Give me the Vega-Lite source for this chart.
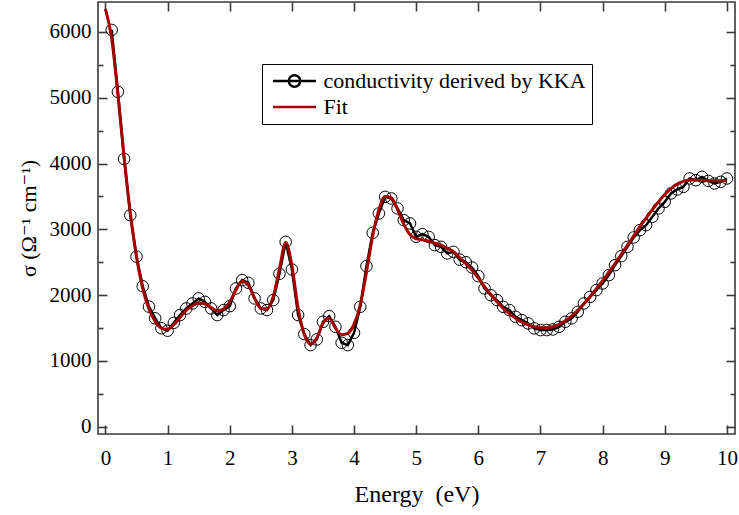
{
  "$schema": "https://vega.github.io/schema/vega-lite/v6.json",
  "width": 637,
  "height": 432,
  "autosize": {"type": "none"},
  "padding": {"left": 98, "top": 2, "right": 4, "bottom": 81},
  "background": "white",
  "config": {
    "view": {"stroke": "#3a3a3a", "strokeWidth": 1.6},
    "axis": {
      "grid": false,
      "domain": false,
      "tickColor": "#3a3a3a",
      "tickWidth": 1.6,
      "labelFont": "'Liberation Serif', 'DejaVu Serif', serif",
      "labelFontSize": 21,
      "labelColor": "black",
      "labelOverlap": false,
      "labelFlush": false,
      "titleFont": "'Liberation Serif', 'DejaVu Serif', serif",
      "titleColor": "black",
      "titleFontWeight": "normal"
    }
  },
  "datasets": {
    "kka": [
      {"energy": 0.1, "sigma": 6030, "series": "conductivity derived by KKA"},
      {"energy": 0.2, "sigma": 5090, "series": "conductivity derived by KKA"},
      {"energy": 0.3, "sigma": 4070, "series": "conductivity derived by KKA"},
      {"energy": 0.4, "sigma": 3215, "series": "conductivity derived by KKA"},
      {"energy": 0.5, "sigma": 2585, "series": "conductivity derived by KKA"},
      {"energy": 0.6, "sigma": 2135, "series": "conductivity derived by KKA"},
      {"energy": 0.7, "sigma": 1825, "series": "conductivity derived by KKA"},
      {"energy": 0.8, "sigma": 1648, "series": "conductivity derived by KKA"},
      {"energy": 0.9, "sigma": 1497, "series": "conductivity derived by KKA"},
      {"energy": 1.0, "sigma": 1460, "series": "conductivity derived by KKA"},
      {"energy": 1.1, "sigma": 1580, "series": "conductivity derived by KKA"},
      {"energy": 1.2, "sigma": 1697, "series": "conductivity derived by KKA"},
      {"energy": 1.3, "sigma": 1798, "series": "conductivity derived by KKA"},
      {"energy": 1.4, "sigma": 1874, "series": "conductivity derived by KKA"},
      {"energy": 1.5, "sigma": 1950, "series": "conductivity derived by KKA"},
      {"energy": 1.6, "sigma": 1899, "series": "conductivity derived by KKA"},
      {"energy": 1.7, "sigma": 1798, "series": "conductivity derived by KKA"},
      {"energy": 1.8, "sigma": 1697, "series": "conductivity derived by KKA"},
      {"energy": 1.9, "sigma": 1773, "series": "conductivity derived by KKA"},
      {"energy": 2.0, "sigma": 1833, "series": "conductivity derived by KKA"},
      {"energy": 2.1, "sigma": 2102, "series": "conductivity derived by KKA"},
      {"energy": 2.2, "sigma": 2228, "series": "conductivity derived by KKA"},
      {"energy": 2.3, "sigma": 2188, "series": "conductivity derived by KKA"},
      {"energy": 2.4, "sigma": 1950, "series": "conductivity derived by KKA"},
      {"energy": 2.5, "sigma": 1798, "series": "conductivity derived by KKA"},
      {"energy": 2.6, "sigma": 1773, "series": "conductivity derived by KKA"},
      {"energy": 2.7, "sigma": 1925, "series": "conductivity derived by KKA"},
      {"energy": 2.8, "sigma": 2325, "series": "conductivity derived by KKA"},
      {"energy": 2.9, "sigma": 2810, "series": "conductivity derived by KKA"},
      {"energy": 3.0, "sigma": 2390, "series": "conductivity derived by KKA"},
      {"energy": 3.1, "sigma": 1697, "series": "conductivity derived by KKA"},
      {"energy": 3.2, "sigma": 1408, "series": "conductivity derived by KKA"},
      {"energy": 3.3, "sigma": 1241, "series": "conductivity derived by KKA"},
      {"energy": 3.4, "sigma": 1327, "series": "conductivity derived by KKA"},
      {"energy": 3.5, "sigma": 1595, "series": "conductivity derived by KKA"},
      {"energy": 3.6, "sigma": 1681, "series": "conductivity derived by KKA"},
      {"energy": 3.7, "sigma": 1519, "series": "conductivity derived by KKA"},
      {"energy": 3.8, "sigma": 1276, "series": "conductivity derived by KKA"},
      {"energy": 3.9, "sigma": 1241, "series": "conductivity derived by KKA"},
      {"energy": 4.0, "sigma": 1428, "series": "conductivity derived by KKA"},
      {"energy": 4.1, "sigma": 1823, "series": "conductivity derived by KKA"},
      {"energy": 4.2, "sigma": 2441, "series": "conductivity derived by KKA"},
      {"energy": 4.3, "sigma": 2947, "series": "conductivity derived by KKA"},
      {"energy": 4.4, "sigma": 3242, "series": "conductivity derived by KKA"},
      {"energy": 4.5, "sigma": 3494, "series": "conductivity derived by KKA"},
      {"energy": 4.6, "sigma": 3469, "series": "conductivity derived by KKA"},
      {"energy": 4.7, "sigma": 3318, "series": "conductivity derived by KKA"},
      {"energy": 4.8, "sigma": 3140, "series": "conductivity derived by KKA"},
      {"energy": 4.9, "sigma": 3090, "series": "conductivity derived by KKA"},
      {"energy": 5.0, "sigma": 2886, "series": "conductivity derived by KKA"},
      {"energy": 5.1, "sigma": 2927, "series": "conductivity derived by KKA"},
      {"energy": 5.2, "sigma": 2886, "series": "conductivity derived by KKA"},
      {"energy": 5.3, "sigma": 2760, "series": "conductivity derived by KKA"},
      {"energy": 5.4, "sigma": 2734, "series": "conductivity derived by KKA"},
      {"energy": 5.5, "sigma": 2634, "series": "conductivity derived by KKA"},
      {"energy": 5.6, "sigma": 2658, "series": "conductivity derived by KKA"},
      {"energy": 5.7, "sigma": 2540, "series": "conductivity derived by KKA"},
      {"energy": 5.8, "sigma": 2500, "series": "conductivity derived by KKA"},
      {"energy": 5.9, "sigma": 2420, "series": "conductivity derived by KKA"},
      {"energy": 6.0, "sigma": 2289, "series": "conductivity derived by KKA"},
      {"energy": 6.1, "sigma": 2102, "series": "conductivity derived by KKA"},
      {"energy": 6.2, "sigma": 2000, "series": "conductivity derived by KKA"},
      {"energy": 6.3, "sigma": 1925, "series": "conductivity derived by KKA"},
      {"energy": 6.4, "sigma": 1823, "series": "conductivity derived by KKA"},
      {"energy": 6.5, "sigma": 1773, "series": "conductivity derived by KKA"},
      {"energy": 6.6, "sigma": 1671, "series": "conductivity derived by KKA"},
      {"energy": 6.7, "sigma": 1621, "series": "conductivity derived by KKA"},
      {"energy": 6.8, "sigma": 1571, "series": "conductivity derived by KKA"},
      {"energy": 6.9, "sigma": 1495, "series": "conductivity derived by KKA"},
      {"energy": 7.0, "sigma": 1469, "series": "conductivity derived by KKA"},
      {"energy": 7.1, "sigma": 1469, "series": "conductivity derived by KKA"},
      {"energy": 7.2, "sigma": 1479, "series": "conductivity derived by KKA"},
      {"energy": 7.3, "sigma": 1519, "series": "conductivity derived by KKA"},
      {"energy": 7.4, "sigma": 1595, "series": "conductivity derived by KKA"},
      {"energy": 7.5, "sigma": 1647, "series": "conductivity derived by KKA"},
      {"energy": 7.6, "sigma": 1747, "series": "conductivity derived by KKA"},
      {"energy": 7.7, "sigma": 1874, "series": "conductivity derived by KKA"},
      {"energy": 7.8, "sigma": 1975, "series": "conductivity derived by KKA"},
      {"energy": 7.9, "sigma": 2077, "series": "conductivity derived by KKA"},
      {"energy": 8.0, "sigma": 2178, "series": "conductivity derived by KKA"},
      {"energy": 8.1, "sigma": 2304, "series": "conductivity derived by KKA"},
      {"energy": 8.2, "sigma": 2456, "series": "conductivity derived by KKA"},
      {"energy": 8.3, "sigma": 2593, "series": "conductivity derived by KKA"},
      {"energy": 8.4, "sigma": 2734, "series": "conductivity derived by KKA"},
      {"energy": 8.5, "sigma": 2877, "series": "conductivity derived by KKA"},
      {"energy": 8.6, "sigma": 2988, "series": "conductivity derived by KKA"},
      {"energy": 8.7, "sigma": 3064, "series": "conductivity derived by KKA"},
      {"energy": 8.8, "sigma": 3190, "series": "conductivity derived by KKA"},
      {"energy": 8.9, "sigma": 3318, "series": "conductivity derived by KKA"},
      {"energy": 9.0, "sigma": 3418, "series": "conductivity derived by KKA"},
      {"energy": 9.1, "sigma": 3545, "series": "conductivity derived by KKA"},
      {"energy": 9.2, "sigma": 3606, "series": "conductivity derived by KKA"},
      {"energy": 9.3, "sigma": 3646, "series": "conductivity derived by KKA"},
      {"energy": 9.4, "sigma": 3773, "series": "conductivity derived by KKA"},
      {"energy": 9.5, "sigma": 3747, "series": "conductivity derived by KKA"},
      {"energy": 9.6, "sigma": 3798, "series": "conductivity derived by KKA"},
      {"energy": 9.7, "sigma": 3737, "series": "conductivity derived by KKA"},
      {"energy": 9.8, "sigma": 3697, "series": "conductivity derived by KKA"},
      {"energy": 9.9, "sigma": 3722, "series": "conductivity derived by KKA"},
      {"energy": 10.0, "sigma": 3773, "series": "conductivity derived by KKA"}
    ],
    "fit": [
      {"energy": 0.0, "sigma": 6350}, {"energy": 0.1, "sigma": 5900}, {"energy": 0.2, "sigma": 5050},
      {"energy": 0.3, "sigma": 4100}, {"energy": 0.4, "sigma": 3250}, {"energy": 0.5, "sigma": 2580},
      {"energy": 0.6, "sigma": 2100}, {"energy": 0.7, "sigma": 1790}, {"energy": 0.8, "sigma": 1600},
      {"energy": 0.9, "sigma": 1500}, {"energy": 1.0, "sigma": 1480}, {"energy": 1.1, "sigma": 1550},
      {"energy": 1.2, "sigma": 1660}, {"energy": 1.3, "sigma": 1770}, {"energy": 1.4, "sigma": 1840},
      {"energy": 1.5, "sigma": 1880}, {"energy": 1.6, "sigma": 1870}, {"energy": 1.7, "sigma": 1810},
      {"energy": 1.8, "sigma": 1760}, {"energy": 1.9, "sigma": 1790}, {"energy": 2.0, "sigma": 1900},
      {"energy": 2.1, "sigma": 2080}, {"energy": 2.2, "sigma": 2210}, {"energy": 2.3, "sigma": 2150},
      {"energy": 2.4, "sigma": 1950}, {"energy": 2.5, "sigma": 1800}, {"energy": 2.6, "sigma": 1790},
      {"energy": 2.7, "sigma": 1980}, {"energy": 2.8, "sigma": 2400}, {"energy": 2.9, "sigma": 2800},
      {"energy": 3.0, "sigma": 2450}, {"energy": 3.1, "sigma": 1800}, {"energy": 3.2, "sigma": 1400},
      {"energy": 3.3, "sigma": 1260}, {"energy": 3.4, "sigma": 1350}, {"energy": 3.5, "sigma": 1570},
      {"energy": 3.6, "sigma": 1650}, {"energy": 3.7, "sigma": 1500}, {"energy": 3.8, "sigma": 1400},
      {"energy": 3.9, "sigma": 1420}, {"energy": 4.0, "sigma": 1560}, {"energy": 4.1, "sigma": 1850},
      {"energy": 4.2, "sigma": 2350}, {"energy": 4.3, "sigma": 2900}, {"energy": 4.4, "sigma": 3300},
      {"energy": 4.5, "sigma": 3500}, {"energy": 4.6, "sigma": 3480}, {"energy": 4.7, "sigma": 3300},
      {"energy": 4.8, "sigma": 3080}, {"energy": 4.9, "sigma": 2920}, {"energy": 5.0, "sigma": 2860},
      {"energy": 5.1, "sigma": 2840}, {"energy": 5.2, "sigma": 2820}, {"energy": 5.3, "sigma": 2790},
      {"energy": 5.4, "sigma": 2760}, {"energy": 5.5, "sigma": 2710}, {"energy": 5.6, "sigma": 2660},
      {"energy": 5.7, "sigma": 2570}, {"energy": 5.8, "sigma": 2480}, {"energy": 5.9, "sigma": 2380},
      {"energy": 6.0, "sigma": 2260}, {"energy": 6.1, "sigma": 2130}, {"energy": 6.2, "sigma": 2010},
      {"energy": 6.3, "sigma": 1900}, {"energy": 6.4, "sigma": 1800}, {"energy": 6.5, "sigma": 1720},
      {"energy": 6.6, "sigma": 1650}, {"energy": 6.7, "sigma": 1590}, {"energy": 6.8, "sigma": 1550},
      {"energy": 6.9, "sigma": 1520}, {"energy": 7.0, "sigma": 1505}, {"energy": 7.1, "sigma": 1505},
      {"energy": 7.2, "sigma": 1520}, {"energy": 7.3, "sigma": 1555}, {"energy": 7.4, "sigma": 1610},
      {"energy": 7.5, "sigma": 1680}, {"energy": 7.6, "sigma": 1770}, {"energy": 7.7, "sigma": 1870},
      {"energy": 7.8, "sigma": 1980}, {"energy": 7.9, "sigma": 2100}, {"energy": 8.0, "sigma": 2220},
      {"energy": 8.1, "sigma": 2350}, {"energy": 8.2, "sigma": 2480}, {"energy": 8.3, "sigma": 2620},
      {"energy": 8.4, "sigma": 2760}, {"energy": 8.5, "sigma": 2900}, {"energy": 8.6, "sigma": 3040},
      {"energy": 8.7, "sigma": 3170}, {"energy": 8.8, "sigma": 3300}, {"energy": 8.9, "sigma": 3420},
      {"energy": 9.0, "sigma": 3530}, {"energy": 9.1, "sigma": 3620}, {"energy": 9.2, "sigma": 3690},
      {"energy": 9.3, "sigma": 3730}, {"energy": 9.4, "sigma": 3750}, {"energy": 9.5, "sigma": 3750},
      {"energy": 9.6, "sigma": 3745}, {"energy": 9.7, "sigma": 3740}, {"energy": 9.8, "sigma": 3740},
      {"energy": 9.9, "sigma": 3740}, {"energy": 10.0, "sigma": 3740}
    ]
  },
  "layer": [
    {
      "data": {"name": "kka"},
      "mark": {"type": "line", "color": "black", "strokeWidth": 2.5},
      "encoding": {
        "x": {
          "field": "energy", "type": "quantitative",
          "scale": {"domain": [-0.12, 10.13], "nice": false, "zero": false},
          "axis": {
            "orient": "bottom",
            "values": [0, 1, 2, 3, 4, 5, 6, 7, 8, 9, 10],
            "format": "d",
            "title": "Energy \u00a0(eV)",
            "titleFontSize": 24,
            "tickSize": -9,
            "labelPadding": 22,
            "titlePadding": 14
          }
        },
        "y": {
          "field": "sigma", "type": "quantitative",
          "scale": {"domain": [-110, 6455], "nice": false, "zero": false},
          "axis": {
            "orient": "left",
            "values": [0, 500, 1000, 1500, 2000, 2500, 3000, 3500, 4000, 4500, 5000, 5500, 6000],
            "format": "d",
            "labelExpr": "datum.value % 1000 === 0 ? datum.label : ''",
            "title": "σ (Ω⁻¹ cm⁻¹)",
            "titleFontSize": 22,
            "tickSize": {"condition": {"test": "datum.value % 1000 === 0", "value": -9}, "value": -5},
            "labelPadding": 16,
            "titlePadding": 9
          }
        }
      }
    },
    {
      "data": {"name": "kka"},
      "mark": {"type": "point", "filled": false, "strokeWidth": 1, "size": 133, "opacity": 1},
      "encoding": {
        "x": {
          "field": "energy", "type": "quantitative",
          "axis": {
            "orient": "top",
            "values": [0, 1, 2, 3, 4, 5, 6, 7, 8, 9, 10],
            "labels": false,
            "title": null,
            "tickSize": -9
          }
        },
        "y": {
          "field": "sigma", "type": "quantitative",
          "axis": {
            "orient": "right",
            "values": [0, 500, 1000, 1500, 2000, 2500, 3000, 3500, 4000, 4500, 5000, 5500, 6000],
            "labels": false,
            "title": null,
            "tickSize": {"condition": {"test": "datum.value % 1000 === 0", "value": -9}, "value": -5}
          }
        },
        "color": {
          "field": "series", "type": "nominal",
          "scale": {"domain": ["conductivity derived by KKA", "Fit"], "range": ["black", "#a40000"]},
          "legend": {
            "title": null,
            "orient": "none",
            "legendX": 164,
            "legendY": 62,
            "symbolSize": 196,
            "symbolStrokeWidth": 2.4,
            "symbolType": {"expr": "datum.value === 'Fit' ? 'M-3.07,0L3.07,0' : 'M-3.07,0L3.07,0M0.82,0A0.82,0.82 0 1 1 -0.82,0A0.82,0.82 0 1 1 0.82,0Z'"},
            "symbolOffset": 15.5,
            "labelOffset": 18,
            "labelFont": "'Liberation Serif', 'DejaVu Serif', serif",
            "labelFontSize": 22,
            "labelColor": "black",
            "labelLimit": 500,
            "padding": 6,
            "rowPadding": 4,
            "strokeColor": "black",
            "fillColor": "white"
          }
        }
      }
    },
    {
      "data": {"name": "fit"},
      "mark": {"type": "line", "color": "#a40000", "strokeWidth": 3, "interpolate": "monotone"},
      "encoding": {
        "x": {"field": "energy", "type": "quantitative", "axis": null},
        "y": {"field": "sigma", "type": "quantitative", "axis": null}
      }
    }
  ],
  "resolve": {"axis": {"x": "independent", "y": "independent"}}
}
